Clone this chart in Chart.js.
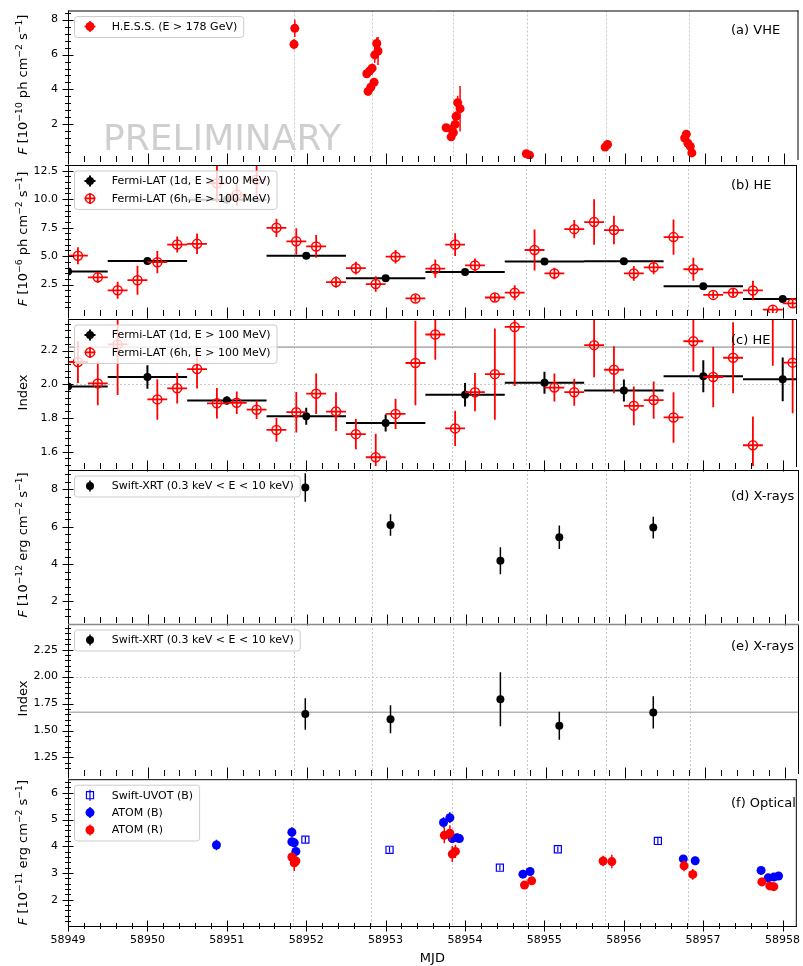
<!DOCTYPE html>
<html>
<head>
<meta charset="utf-8">
<title>Multiwavelength light curve</title>
<script src="https://cdn.jsdelivr.net/npm/chart.js@4.4.1/dist/chart.umd.min.js"></script>
<style>
	body { margin: 0; background: #fff; }
	#wrap { position: relative; width: 803px; height: 966px; overflow: hidden; }
	#wrap canvas { position: absolute; left: 0; }
</style>
</head>
<body>
<div id="wrap">
	<canvas id="panelA" width="803" height="161" style="top:6px"></canvas>
	<canvas id="panelB" width="803" height="162" style="top:159px"></canvas>
	<canvas id="panelC" width="803" height="161" style="top:313px"></canvas>
	<canvas id="panelD" width="803" height="162" style="top:466px"></canvas>
	<canvas id="panelE" width="803" height="161" style="top:620px"></canvas>
	<canvas id="panelF" width="803" height="193" style="top:773px"></canvas>
</div>
<script>
// ---- x axis / observation nights ----
var mjdMin = 58949.0;
var mjdMax = 58958.18;
var hessNights = [58951.84, 58952.82, 58953.835, 58954.77, 58955.76, 58956.81];

// ---- (a) H.E.S.S. ----
var hessMjd = [58951.85, 58951.84, 58952.755, 58952.789, 58952.821, 58952.771, 58952.805, 58952.846, 58952.855, 58952.880, 58952.896,
	58953.752, 58953.822, 58953.815, 58953.843, 58953.865, 58953.877, 58953.897, 58953.927,
	58954.76, 58954.80, 58955.75, 58955.78, 58956.75, 58956.77, 58956.79, 58956.82, 58956.84];
var hessFlux = [7.5, 6.59, 4.9, 5.05, 5.22, 3.89, 4.13, 4.41, 5.98, 6.63, 6.2,
	1.81, 1.72, 1.29, 1.53, 2.0, 2.46, 3.24, 2.9,
	0.32, 0.24, 0.7, 0.85, 1.22, 1.44, 0.92, 0.74, 0.37];
var hessFluxErr = [0.5, 0.3, 0.25, 0.25, 0.25, 0.2, 0.2, 0.2, 0.45, 0.35, 0.8,
	0.15, 0.15, 0.15, 0.2, 0.25, 0.3, 0.4, 1.3,
	0.1, 0.1, 0.1, 0.12, 0.15, 0.15, 0.12, 0.12, 0.1];
var hessRunHalf = 0.01;

// ---- (b)(c) Fermi-LAT, 1 day bins ----
var lat1dMjd = [58949, 58950, 58951, 58952, 58953, 58954, 58955, 58956, 58957, 58958];
var lat1dFlux = [3.65, 4.58, 9.95, 5.04, 3.06, 3.6, 4.53, 4.55, 2.36, 1.23];
var lat1dFluxErr = [0.2, 0.2, 0.3, 0.25, 0.15, 0.15, 0.2, 0.25, 0.15, 0.12];
var lat1dIndex = [1.986, 2.043, 1.904, 1.81, 1.77, 1.938, 2.009, 1.963, 2.048, 2.029];
var lat1dIndexErr = [0.02, 0.07, 0.025, 0.05, 0.05, 0.07, 0.065, 0.065, 0.095, 0.13];
var lat1dHalfBin = 0.5;

// ---- (b)(c) Fermi-LAT, 6 hour bins ----
var lat6hMjd = [58949.125, 58949.375, 58949.625, 58949.875, 58950.125, 58950.375, 58950.625, 58950.875,
	58951.125, 58951.375, 58951.625, 58951.875, 58952.125, 58952.375, 58952.625, 58952.875,
	58953.125, 58953.375, 58953.625, 58953.875, 58954.125, 58954.375, 58954.625, 58954.875,
	58955.125, 58955.375, 58955.625, 58955.875, 58956.125, 58956.375, 58956.625, 58956.875,
	58957.125, 58957.375, 58957.625, 58957.875, 58958.125];
var lat6hFlux = [5.04, 3.14, 2.0, 2.89, 4.47, 6.02, 6.08, 11.4,
	10.4, 11.7, 7.49, 6.3, 5.85, 2.72, 3.94, 2.55,
	4.95, 1.29, 3.9, 6.02, 4.19, 1.37, 1.79, 5.54,
	3.48, 7.37, 7.99, 7.29, 3.48, 4.02, 6.67, 3.85,
	1.6, 1.79, 1.99, 0.3, 0.86];
var lat6hFluxErr = [0.75, 0.5, 0.75, 1.27, 0.98, 0.7, 0.9, 1.7,
	1.0, 1.4, 0.8, 1.15, 1.0, 0.5, 0.56, 0.68,
	0.6, 0.3, 0.8, 1.0, 0.6, 0.35, 0.65, 1.8,
	0.5, 0.8, 2.0, 1.25, 0.65, 0.6, 1.55, 1.0,
	0.3, 0.35, 0.85, 0.3, 0.4];
var lat6hIndex = [2.132, 2.005, 2.236, null, 1.91, 1.976, 2.09, 1.887,
	1.89, 1.849, 1.729, 1.834, 1.944, 1.838, 1.704, 1.567,
	1.824, 2.126, 2.295, 1.738, 1.953, 2.06, 2.34, null,
	1.98, 1.953, 2.232, 2.086, 1.872, 1.906, 1.803, 2.255,
	2.043, 2.157, 1.638, 2.41, 2.128];
var lat6hIndexErr = [0.125, 0.13, 0.3, null, 0.12, 0.09, 0.115, 0.09,
	0.067, 0.055, 0.07, 0.12, 0.12, 0.115, 0.09, 0.14,
	0.09, 0.25, 0.15, 0.105, 0.113, 0.27, 0.35, null,
	0.083, 0.08, 0.19, 0.14, 0.115, 0.11, 0.15, 0.18,
	0.18, 0.21, 0.17, 0.3, 0.3];
var lat6hHalfBin = 0.125;
var latIndexMean = 2.22;

// ---- (d)(e) Swift-XRT ----
var xrtMjd = [58951.98, 58953.05, 58954.43, 58955.17, 58956.35];
var xrtFlux = [8.09, 6.09, 4.18, 5.43, 5.95];
var xrtFluxErr = [0.76, 0.57, 0.72, 0.63, 0.58];
var xrtIndex = [1.654, 1.605, 1.79, 1.545, 1.668];
var xrtIndexErr = [0.146, 0.13, 0.25, 0.13, 0.15];
var xrtIndexMean = 1.67;
var indexRef = 2.0;

// ---- (f) optical ----
var uvotMjd = [58951.99, 58953.05, 58954.44, 58955.17, 58956.43];
var uvotFlux = [4.25, 3.87, 3.2, 3.89, 4.2];
var uvotErr = [0.12, 0.1, 0.1, 0.1, 0.12];
var atomBMjd = [58950.87, 58951.82, 58951.82, 58951.85, 58951.87, 58953.73, 58953.81, 58953.84, 58953.90, 58953.93,
	58954.73, 58954.82, 58956.75, 58956.90, 58957.73, 58957.82, 58957.89, 58957.95];
var atomBFlux = [4.05, 4.53, 4.17, 4.13, 3.81, 4.89, 5.07, 4.29, 4.32, 4.29,
	2.96, 3.06, 3.53, 3.46, 3.1, 2.82, 2.85, 2.89];
var atomBErr = [0.2, 0.18, 0.15, 0.15, 0.15, 0.2, 0.2, 0.15, 0.15, 0.15,
	0.1, 0.12, 0.12, 0.15, 0.1, 0.1, 0.12, 0.15];
var atomRMjd = [58951.82, 58951.85, 58951.87, 58953.74, 58953.81, 58953.84, 58953.88,
	58954.75, 58954.84, 58955.74, 58955.85, 58956.76, 58956.87, 58957.74, 58957.84, 58957.89];
var atomRFlux = [3.6, 3.38, 3.45, 4.41, 4.49, 3.71, 3.81,
	2.55, 2.71, 3.45, 3.43, 3.27, 2.95, 2.67, 2.52, 2.49];
var atomRErr = [0.15, 0.3, 0.2, 0.3, 0.3, 0.3, 0.25,
	0.15, 0.15, 0.2, 0.25, 0.2, 0.2, 0.15, 0.15, 0.15];

Chart.defaults.font.family = 'DejaVu Sans';
Chart.defaults.font.size = 11;
Chart.defaults.color = '#000';

var FONT = 'DejaVu Sans';

var points = function(xs, ys, es)
{
	var out = [];
	for (var i = 0; i < xs.length; i++) {
		if (ys[i] === null) continue;
		out.push({x: xs[i], y: ys[i], ey: es[i]});
	}
	return out;
}

var series = function(label, xs, ys, es, st)
{
	return {
		label: label,
		data: points(xs, ys, es),
		showLine: false,
		clip: 0,
		pointStyle: st.shape || 'circle',
		pointRadius: st.r,
		pointHoverRadius: st.r,
		pointBackgroundColor: st.fill,
		pointBorderColor: st.color,
		pointBorderWidth: st.bw || 0,
		errColor: st.color,
		errWidth: st.ew || 1.5,
		errX: st.ex || 0
	};
}

var drawErrors = function(chart, ds)
{
	var ctx = chart.ctx, a = chart.chartArea, xs = chart.scales.x, ys = chart.scales.y;
	ctx.save();
	ctx.beginPath();
	ctx.rect(a.left, a.top, a.right - a.left, a.bottom - a.top);
	ctx.clip();
	ctx.strokeStyle = ds.errColor;
	ctx.lineWidth = ds.errWidth;
	ctx.beginPath();
	ds.data.forEach(function(p){
		var px = xs.getPixelForValue(p.x), py = ys.getPixelForValue(p.y);
		if (p.ey) {
			ctx.moveTo(px, ys.getPixelForValue(p.y - p.ey));
			ctx.lineTo(px, ys.getPixelForValue(p.y + p.ey));
		}
		if (ds.errX) {
			ctx.moveTo(xs.getPixelForValue(p.x - ds.errX), py);
			ctx.lineTo(xs.getPixelForValue(p.x + ds.errX), py);
		}
	});
	ctx.stroke();
	ctx.restore();
}

var drawMarker = function(ctx, ds, x, y)
{
	var r = ds.pointRadius;
	ctx.save();
	ctx.fillStyle = ds.pointBackgroundColor;
	ctx.strokeStyle = ds.pointBorderColor;
	ctx.lineWidth = ds.pointBorderWidth;
	ctx.beginPath();
	if (ds.pointStyle === 'rect') {
		var s = r * Math.SQRT1_2;
		ctx.rect(x - s, y - s, 2 * s, 2 * s);
	} else {
		ctx.arc(x, y, r, 0, Math.PI * 2);
	}
	ctx.fill();
	if (ds.pointBorderWidth > 0) ctx.stroke();
	ctx.restore();
}

var drawLegend = function(chart)
{
	var ctx = chart.ctx, a = chart.chartArea, list = chart.data.datasets;
	var left = a.left + 6, top = a.top + 5.5, rowH = 17.4;
	ctx.save();
	ctx.font = '11px "' + FONT + '"';
	var maxW = 0;
	list.forEach(function(d){ maxW = Math.max(maxW, ctx.measureText(d.label).width); });
	var w = 37.7 + maxW + 6, h = 21 + rowH * (list.length - 1);
	ctx.beginPath();
	ctx.roundRect(left + 0.5, top + 0.5, w, h, 3);
	ctx.fillStyle = 'rgba(255,255,255,0.8)';
	ctx.fill();
	ctx.strokeStyle = '#cccccc';
	ctx.lineWidth = 1;
	ctx.stroke();
	list.forEach(function(d, i){
		var cy = top + 10.5 + rowH * i, cx = left + 16;
		ctx.strokeStyle = d.errColor;
		ctx.lineWidth = d.errWidth;
		ctx.beginPath();
		ctx.moveTo(cx, cy - 5.5); ctx.lineTo(cx, cy + 5.5);
		if (d.errX) { ctx.moveTo(cx - 5.5, cy); ctx.lineTo(cx + 5.5, cy); }
		ctx.stroke();
		drawMarker(ctx, d, cx, cy);
		ctx.fillStyle = '#000';
		ctx.textBaseline = 'middle';
		ctx.textAlign = 'left';
		ctx.fillText(d.label, left + 37.7, cy + 0.5);
	});
	ctx.restore();
}

var drawTitle = function(ctx, segs, x, y)
{
	var size = 13, sup = 9.2, total = 0;
	var fontOf = function(s){ return (s.it ? 'italic ' : '') + (s.sup ? sup : size) + 'px "' + FONT + '"'; };
	segs.forEach(function(s){ ctx.font = fontOf(s); s.w = ctx.measureText(s.t).width; total += s.w; });
	ctx.save();
	ctx.translate(x, y);
	ctx.rotate(-Math.PI / 2);
	ctx.fillStyle = '#000';
	ctx.textBaseline = 'alphabetic';
	ctx.textAlign = 'left';
	var cx = -total / 2;
	segs.forEach(function(s){
		ctx.font = fontOf(s);
		ctx.fillText(s.t, cx, s.sup ? -5.2 : 0);
		cx += s.w;
	});
	ctx.restore();
}

var drawFrame = function(chart, cfg)
{
	var ctx = chart.ctx, a = chart.chartArea, xs = chart.scales.x, ys = chart.scales.y;
	ctx.save();
	ctx.lineWidth = 1;
	ctx.strokeStyle = '#000';
	ctx.beginPath();
	ctx.moveTo(a.left + 0.5, a.top); ctx.lineTo(a.left + 0.5, a.bottom + 1);
	ctx.moveTo(a.right - 0.5, a.top); ctx.lineTo(a.right - 0.5, a.bottom + 1);
	if (cfg.xLabels) { ctx.moveTo(a.left, a.bottom + 0.5); ctx.lineTo(a.right, a.bottom + 0.5); }
	// x ticks on the lower spine, major every day, minor every 0.2 day
	for (var i = 0; ; i++) {
		var v = mjdMin + i * 0.2;
		if (v > mjdMax) break;
		var px = Math.round(xs.getPixelForValue(v)) + 0.5, len = (i % 5 === 0) ? 5.5 : 3;
		ctx.moveTo(px, a.bottom - len); ctx.lineTo(px, a.bottom + len);
	}
	// y ticks on the left spine
	var step = cfg.yStep, minor = step / 5;
	for (var k = Math.ceil(cfg.yMin / minor); k * minor <= cfg.yMax; k++) {
		var val = k * minor, q = val / step;
		var ln = (Math.abs(q - Math.round(q)) < 1e-6) ? 5.5 : 3;
		var py = Math.round(ys.getPixelForValue(val)) + 0.5;
		ctx.moveTo(a.left - ln, py); ctx.lineTo(a.left + ln, py);
	}
	ctx.stroke();
	// top spine
	ctx.strokeStyle = cfg.topColor || '#000';
	ctx.lineWidth = cfg.topColor ? 1.6 : 1;
	ctx.beginPath();
	ctx.moveTo(a.left, a.top + 0.5); ctx.lineTo(a.right, a.top + 0.5);
	ctx.stroke();
	ctx.restore();
}

var panelPlugin = function(cfg)
{
	return {
		id: 'panel',
		beforeDatasetsDraw: function(chart) {
			var ctx = chart.ctx, a = chart.chartArea, xs = chart.scales.x, ys = chart.scales.y;
			ctx.save();
			ctx.beginPath();
			ctx.rect(a.left, a.top, a.right - a.left, a.bottom - a.top);
			ctx.clip();
			ctx.strokeStyle = '#c8c8c8';
			ctx.lineWidth = 1;
			ctx.setLineDash([2, 2]);
			ctx.beginPath();
			hessNights.forEach(function(m){
				var px = Math.round(xs.getPixelForValue(m)) + 0.5;
				ctx.moveTo(px, a.top); ctx.lineTo(px, a.bottom);
			});
			(cfg.dotted || []).forEach(function(v){
				var py = Math.round(ys.getPixelForValue(v)) + 0.5;
				ctx.moveTo(a.left, py); ctx.lineTo(a.right, py);
			});
			ctx.stroke();
			ctx.setLineDash([]);
			ctx.strokeStyle = '#b4b4b4';
			ctx.lineWidth = 1.6;
			ctx.beginPath();
			(cfg.solid || []).forEach(function(v){
				var py = ys.getPixelForValue(v);
				ctx.moveTo(a.left, py); ctx.lineTo(a.right, py);
			});
			ctx.stroke();
			if (cfg.watermark) {
				ctx.font = '36px "' + FONT + '"';
				ctx.fillStyle = '#cfcfcf';
				ctx.textBaseline = 'alphabetic';
				ctx.fillText(cfg.watermark, a.left + 35, a.top + 139.7);
			}
			ctx.restore();
		},
		beforeDatasetDraw: function(chart, args) {
			drawErrors(chart, chart.data.datasets[args.index]);
		},
		afterDraw: function(chart) {
			var ctx = chart.ctx, a = chart.chartArea;
			drawFrame(chart, cfg);
			drawLegend(chart);
			ctx.save();
			ctx.font = '13px "' + FONT + '"';
			ctx.fillStyle = '#000';
			ctx.textBaseline = 'alphabetic';
			ctx.fillText(cfg.label, a.left + 663, a.top + cfg.labelY);
			ctx.restore();
			drawTitle(ctx, cfg.title, 27, (a.top + a.bottom) / 2);
		}
	};
}

var makePanel = function(id, cfg, datasets)
{
	var n = datasets.length;
	datasets.forEach(function(d, i){ d.order = n - i; });
	return new Chart(document.getElementById(id), {
		type: 'scatter',
		data: { datasets: datasets },
		options: {
			responsive: false,
			animation: false,
			events: [],
			layout: { padding: { left: 0, right: 1, top: 0, bottom: cfg.xLabels ? 0 : 8 } },
			plugins: { legend: { display: false }, tooltip: { enabled: false } },
			scales: {
				x: {
					type: 'linear',
					min: mjdMin,
					max: mjdMax,
					display: !!cfg.xLabels,
					grid: { display: false, drawTicks: false },
					border: { display: false },
					ticks: {
						stepSize: 1, includeBounds: false, padding: 8, maxRotation: 0, autoSkip: false,
						callback: function(v){ return String(v); }
					},
					title: { display: true, text: 'MJD', font: { size: 13 }, padding: { top: 0, bottom: 0 } },
					afterFit: function(s){
						s.height = cfg.xLabels ? 40 : 0;
						s.paddingLeft = 0; s.paddingRight = 0;
					}
				},
				y: {
					type: 'linear',
					min: cfg.yMin,
					max: cfg.yMax,
					grid: { display: false, drawTicks: false },
					border: { display: false },
					ticks: {
						stepSize: cfg.yStep, includeBounds: false, padding: 10,
						callback: function(v){ return Number(v).toFixed(cfg.dec); }
					},
					afterFit: function(s){ s.width = 68; s.paddingTop = 0; s.paddingBottom = 0; }
				}
			}
		},
		plugins: [panelPlugin(cfg)]
	});
}

var F = function(exp, unit){
	return [{t: 'F', it: 1}, {t: ' [10'}, {t: '\u2212' + exp, sup: 1}, {t: ' ' + unit + ' cm'}, {t: '\u22122', sup: 1}, {t: ' s'}, {t: '\u22121', sup: 1}, {t: ']'}];
}

var red = '#ff0000', blue = '#0000ff', black = '#000000', none = 'rgba(0,0,0,0)';

makePanel('panelA', {
	yMin: 0.02, yMax: 8.52, yStep: 2, dec: 0, label: '(a) VHE', labelY: 23.5,
	title: F('10', 'ph'), watermark: 'PRELIMINARY'
}, [
	series('H.E.S.S. (E > 178 GeV)', hessMjd, hessFlux, hessFluxErr, {color: red, fill: red, r: 4.5, ew: 1.5, ex: hessRunHalf})
]);

makePanel('panelB', {
	yMin: 0.01, yMax: 13.0, yStep: 2.5, dec: 1, label: '(b) HE', labelY: 23.5,
	title: F('6', 'ph')
}, [
	series('Fermi-LAT (1d, E > 100 MeV)', lat1dMjd, lat1dFlux, lat1dFluxErr, {color: black, fill: black, r: 4, ew: 2, ex: lat1dHalfBin}),
	series('Fermi-LAT (6h, E > 100 MeV)', lat6hMjd, lat6hFlux, lat6hFluxErr, {color: red, fill: none, r: 4.5, bw: 1.5, ew: 1.8, ex: lat6hHalfBin})
]);

makePanel('panelC', {
	yMin: 1.515, yMax: 2.387, yStep: 0.2, dec: 1, label: '(c) HE', labelY: 24.8,
	title: [{t: 'Index'}], dotted: [indexRef], solid: [latIndexMean]
}, [
	series('Fermi-LAT (1d, E > 100 MeV)', lat1dMjd, lat1dIndex, lat1dIndexErr, {color: black, fill: black, r: 4, ew: 2, ex: lat1dHalfBin}),
	series('Fermi-LAT (6h, E > 100 MeV)', lat6hMjd, lat6hIndex, lat6hIndexErr, {color: red, fill: none, r: 4.5, bw: 1.5, ew: 1.8, ex: lat6hHalfBin})
]);

makePanel('panelD', {
	yMin: 1.01, yMax: 9.03, yStep: 2, dec: 0, label: '(d) X-rays', labelY: 29.5,
	title: F('12', 'erg')
}, [
	series('Swift-XRT (0.3 keV < E < 10 keV)', xrtMjd, xrtFlux, xrtFluxErr, {color: black, fill: black, r: 4, ew: 1.5})
]);

makePanel('panelE', {
	yMin: 1.106, yMax: 2.488, yStep: 0.25, dec: 2, label: '(e) X-rays', labelY: 26.2,
	title: [{t: 'Index'}], dotted: [indexRef], solid: [xrtIndexMean], topColor: '#8a8a8a'
}, [
	series('Swift-XRT (0.3 keV < E < 10 keV)', xrtMjd, xrtIndex, xrtIndexErr, {color: black, fill: black, r: 4, ew: 1.5})
]);

makePanel('panelF', {
	yMin: 1.02, yMax: 6.51, yStep: 1, dec: 0, label: '(f) Optical', labelY: 28.2,
	title: F('11', 'erg'), xLabels: true
}, [
	series('Swift-UVOT (B)', uvotMjd, uvotFlux, uvotErr, {shape: 'rect', color: blue, fill: none, r: 5, bw: 1.2, ew: 1.2}),
	series('ATOM (B)', atomBMjd, atomBFlux, atomBErr, {color: blue, fill: blue, r: 4.5, ew: 1.5}),
	series('ATOM (R)', atomRMjd, atomRFlux, atomRErr, {color: red, fill: red, r: 4.5, ew: 1.5})
]);
</script>
</body>
</html>
